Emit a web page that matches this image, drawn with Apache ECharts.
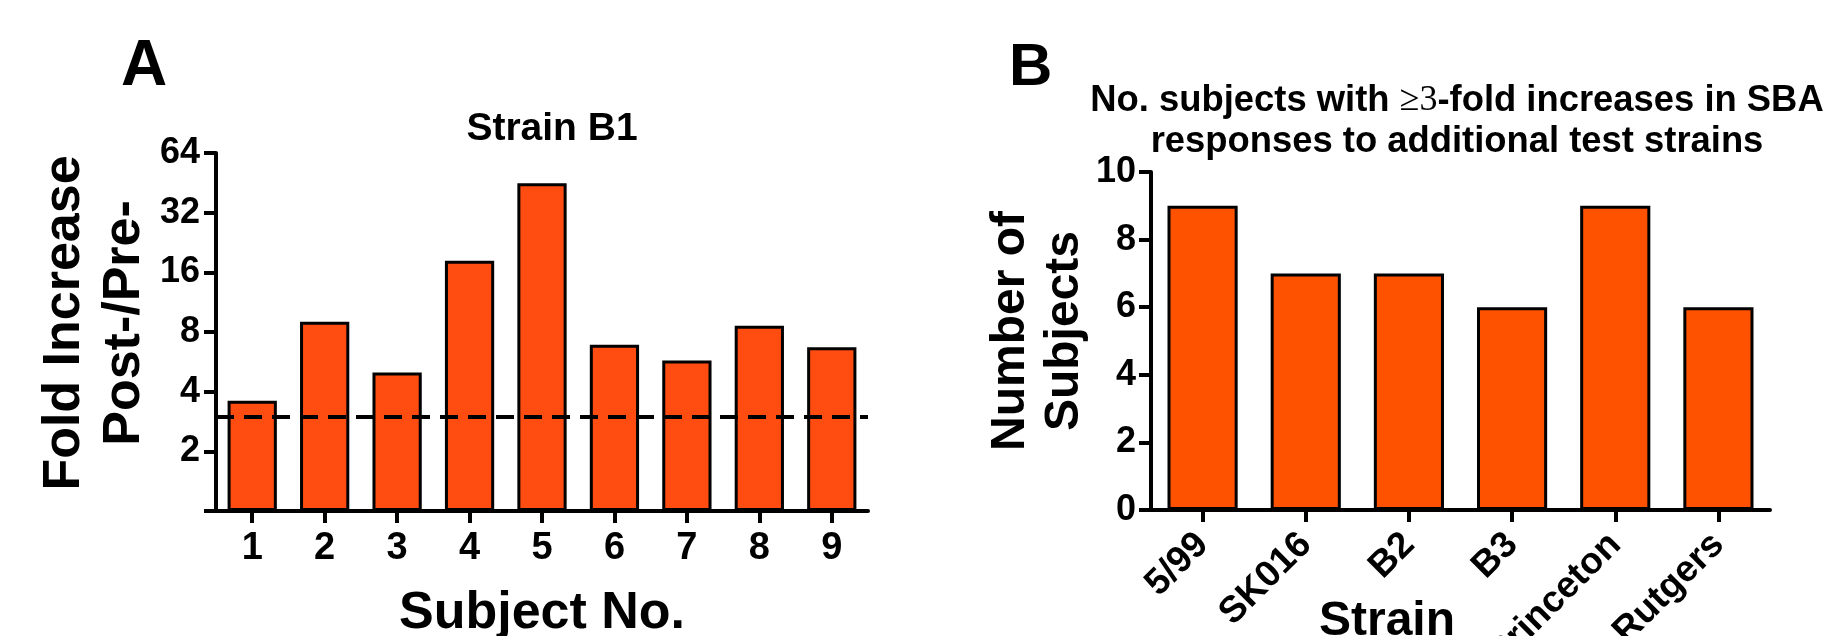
<!DOCTYPE html>
<html><head><meta charset="utf-8">
<script src="https://cdn.jsdelivr.net/npm/echarts@6/dist/echarts.min.js"></script>
<style>html,body{margin:0;padding:0;background:#fff}#c{width:1825px;height:636px}</style>
</head><body><div id="c"></div>
<script>
// ---- data ----
const subjects = ['1', '2', '3', '4', '5', '6', '7', '8', '9'];
const foldIncrease = [3.6, 9, 5, 18.3, 45, 6.9, 5.75, 8.6, 6.7];
const threshold = 3;
const foldTickLabels = [2, 4, 8, 16, 32, 64];
const strains = ['5/99', 'SK016', 'B2', 'B3', 'Princeton', 'Rutgers'];
const numSubjects = [9, 7, 7, 6, 9, 6];

// ---- style ----
const FONT = "'Liberation Sans', Arial, Helvetica, sans-serif";
const txt = (size, extra) => Object.assign({ fontFamily: FONT, fontWeight: 'bold', fontSize: size, color: '#000' }, extra || {});
const axisLine = { show: true, onZero: false, lineStyle: { color: '#000', width: 4 } };
const axisTick = { show: true, length: 12, lineStyle: { color: '#000', width: 4 } };

const chart = echarts.init(document.getElementById('c'), null, { renderer: 'canvas' });
chart.setOption({
  animation: false,
  backgroundColor: '#fff',
  title: [
    { text: 'A', left: 116, top: 30, textStyle: txt(64) },
    { text: 'B', left: 1004, top: 33, textStyle: txt(60) },
    { text: 'Strain B1', left: 547, top: 105, textAlign: 'center', textStyle: txt(39) },
    {
      text: '{t|No. subjects with }{s|≥3}{t|-fold increases in SBA}\n{t|responses to additional test strains}',
      left: 1452, top: 75, textAlign: 'center',
      textStyle: {
        rich: {
          t: txt(36.4, { lineHeight: 41 }),
          s: { fontFamily: "'Liberation Serif', 'DejaVu Serif', serif", fontWeight: 'normal', fontSize: 36, color: '#000', lineHeight: 41 }
        }
      }
    },
    { text: 'Strain', left: 1382, top: 593, textAlign: 'center', textStyle: txt(48) }
  ],
  grid: [
    { left: 216, top: 153, width: 652, height: 358, outerBoundsMode: 'none', containLabel: false },
    { left: 1151, top: 172, width: 619, height: 338, outerBoundsMode: 'none', containLabel: false }
  ],
  xAxis: [
    {
      gridIndex: 0, type: 'category', data: subjects,
      axisLine: axisLine,
      axisTick: Object.assign({ alignWithLabel: true }, axisTick),
      axisLabel: txt(38, { margin: 19 }),
      name: 'Subject No.', nameLocation: 'middle', nameGap: 77,
      nameTextStyle: txt(52)
    },
    {
      gridIndex: 1, type: 'category', data: strains,
      axisLine: axisLine,
      axisTick: Object.assign({ alignWithLabel: true }, axisTick),
      axisLabel: txt(37, { margin: 29, rotate: 45, interval: 0 })
    }
  ],
  yAxis: [
    {
      gridIndex: 0, type: 'log', logBase: 2, min: 1, max: 64, splitNumber: 6,
      splitLine: { show: false },
      axisLine: axisLine, axisTick: axisTick,
      axisLabel: txt(36, {
        margin: 16,
        formatter: v => (foldTickLabels.indexOf(Math.round(v)) >= 0 ? String(Math.round(v)) : '')
      }),
      name: 'Fold Increase\nPost-/Pre-', nameLocation: 'middle', nameRotate: 90, nameGap: 61,
      nameTextStyle: txt(52, { lineHeight: 60, padding: [0, 0, 0, 18] })
    },
    {
      gridIndex: 1, type: 'value', min: 0, max: 10, interval: 2,
      splitLine: { show: false },
      axisLine: axisLine, axisTick: axisTick,
      axisLabel: txt(36, { margin: 15 }),
      name: 'Number of\nSubjects', nameLocation: 'middle', nameRotate: 90, nameGap: 41,
      nameTextStyle: txt(48, { lineHeight: 54, padding: [0, 0, 0, 20] })
    }
  ],
  series: [
    {
      type: 'bar', xAxisIndex: 0, yAxisIndex: 0, data: foldIncrease, barWidth: '68%',
      itemStyle: { color: '#FF4D12', borderColor: '#000', borderWidth: 3 },
      markLine: {
        silent: true, symbol: 'none', label: { show: false },
        lineStyle: { type: [18, 10], width: 4, color: '#000' },
        data: [{ yAxis: threshold }]
      }
    },
    {
      type: 'bar', xAxisIndex: 1, yAxisIndex: 1, data: numSubjects, barWidth: '68%',
      itemStyle: { color: '#FF5200', borderColor: '#000', borderWidth: 3 }
    }
  ]
});
</script>
</body></html>
